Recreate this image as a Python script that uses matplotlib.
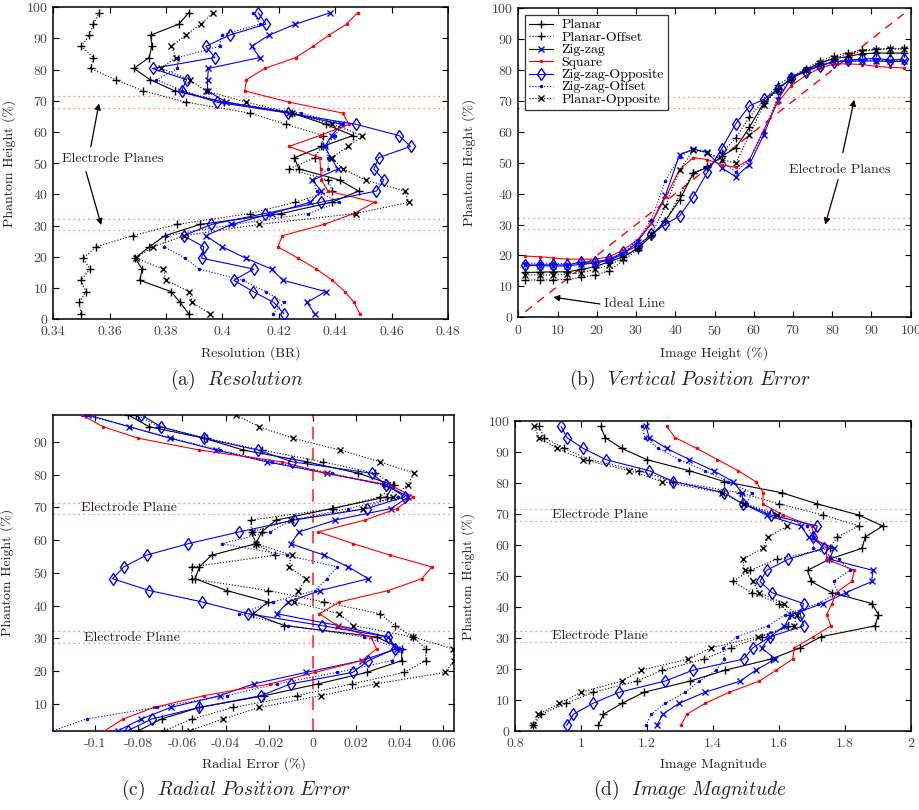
#!/usr/bin/env python

# Electrode layout comparison: resolution, position error and magnitude
# against phantom height for the seven electrode arrangements

import matplotlib

matplotlib.use("Agg")
import matplotlib.pyplot as plt

plt.rcParams["font.family"] = "serif"
plt.rcParams["font.serif"] = ["cmr10", "DejaVu Serif"]
plt.rcParams["mathtext.fontset"] = "cm"
plt.rcParams["axes.unicode_minus"] = False
plt.rcParams["axes.formatter.use_mathtext"] = True

# Phantom heights (%) at which each arrangement was measured
heights = [1.8, 5.4, 8.9, 12.5, 16.1, 19.6, 23.2, 26.8, 30.4, 33.9, 37.5, 41.1, 44.6, 48.2,
           51.8, 55.4, 58.9, 62.5, 66.1, 69.6, 73.2, 76.8, 80.4, 83.9, 87.5, 91.1, 94.6, 98.2]
electrode_planes = [28.57, 32.14, 67.86, 71.43]
names = ["Planar", "Planar-Offset", "Zig-zag", "Square",
         "Zig-zag-Opposite", "Zig-zag-Offset", "Planar-Opposite"]

# (a) Resolution (BR)
res_planar = [0.388, 0.385, 0.3817, 0.3707, 0.3715, 0.369, 0.374, 0.3796, 0.392, 0.4209, 0.4387, 0.4483, 0.4416, 0.4271,
              0.4255, 0.4355, 0.4463, 0.4366, 0.4246, 0.4005, 0.3831, 0.3743, 0.3686, 0.374, 0.3749, 0.3746, 0.3845, 0.388]
res_planar_off = [0.3498, 0.3492, 0.3516, 0.3498, 0.353, 0.3506, 0.3551, 0.3681, 0.3837, 0.4097, 0.4257, 0.4389, 0.4375, 0.4237,
                  0.4327, 0.4351, 0.4357, 0.4225, 0.4097, 0.387, 0.3719, 0.3621, 0.3532, 0.3542, 0.350, 0.3528, 0.3542, 0.3562]
res_zigzag = [0.4327, 0.430, 0.4366, 0.4215, 0.4174, 0.4082, 0.400, 0.3941, 0.4032, 0.4174, 0.431, 0.4351, 0.4319, 0.441,
              0.4384, 0.4363, 0.4387, 0.4422, 0.4237, 0.4014, 0.3947, 0.3947, 0.395, 0.4133, 0.4103, 0.4166, 0.4259, 0.4381]
res_square = [0.4487, 0.4467, 0.4434, 0.439, 0.4333, 0.4268, 0.4197, 0.4212, 0.436, 0.4466, 0.454, 0.4375, 0.4351, 0.4348,
              0.4345, 0.4236, 0.4345, 0.4449, 0.4426, 0.4236, 0.4079, 0.4085, 0.415, 0.426, 0.4322, 0.4378, 0.444, 0.4479]
res_zz_opp = [0.4218, 0.4182, 0.4109, 0.404, 0.4111, 0.3926, 0.3934, 0.3862, 0.3961, 0.415, 0.4348, 0.4546, 0.4572, 0.4537,
              0.4554, 0.4667, 0.4626, 0.4473, 0.4233, 0.3979, 0.3855, 0.3873, 0.3752, 0.3973, 0.3941, 0.4026, 0.4154, 0.4127]
res_zz_off = [0.4178, 0.4219, 0.4153, 0.4073, 0.3917, 0.3868, 0.3794, 0.380, 0.404, 0.4304, 0.4414, 0.4334, 0.4322, 0.4375,
              0.4375, 0.4366, 0.4398, 0.4428, 0.428, 0.4005, 0.3858, 0.3766, 0.384, 0.3843, 0.399, 0.3997, 0.4133, 0.4109]
res_planar_opp = [0.3955, 0.3893, 0.3882, 0.380, 0.379, 0.3693, 0.3752, 0.3863, 0.413, 0.4472, 0.4662, 0.4646, 0.4508, 0.4428,
                  0.4387, 0.4446, 0.4496, 0.439, 0.4245, 0.4085, 0.394, 0.3884, 0.3782, 0.3835, 0.3819, 0.387, 0.3923, 0.3965]

# (b) Phantom height (%) against image height (%)
vp_planar = [14.5, 14.6, 14.7, 14.7, 15.5, 16.4, 18.0, 19.6, 22.3, 26.3, 31.3, 38.0, 46.6, 48.5,
             52.1, 54.8, 61.5, 69.3, 74.0, 77.2, 80.0, 82.3, 83.7, 84.3, 85.3, 85.5, 85.5, 85.5]
vp_planar_off = [12.0, 12.1, 12.1, 12.3, 12.9, 13.7, 15.0, 18.5, 21.8, 26.6, 31.0, 39.5, 46.8, 48.8,
                 53.0, 58.0, 64.8, 70.0, 75.3, 77.8, 80.5, 82.8, 84.6, 85.5, 86.5, 86.8, 87.0, 87.0]
vp_zigzag = [16.9, 16.7, 16.6, 16.6, 17.2, 17.5, 18.5, 20.4, 24.5, 30.4, 39.5, 52.6, 54.4, 53.3,
             48.4, 45.5, 49.4, 59.0, 70.2, 77.6, 79.9, 81.4, 82.7, 82.8, 83.0, 82.9, 82.8, 82.8]
vp_square = [19.8, 19.6, 19.2, 18.8, 18.8, 18.8, 19.6, 21.8, 25.1, 30.4, 38.8, 47.8, 51.7, 51.0,
             49.4, 48.5, 51.0, 60.5, 69.5, 75.0, 78.2, 80.6, 82.0, 82.0, 81.8, 81.2, 80.9, 80.7]
vp_zz_opp = [16.9, 16.9, 17.0, 16.9, 17.9, 17.9, 18.8, 21.0, 23.1, 26.9, 30.1, 32.8, 39.0, 47.0,
             54.5, 62.6, 68.4, 70.5, 73.8, 77.5, 79.5, 81.3, 82.7, 83.2, 83.5, 83.8, 83.2, 83.5]
vp_zz_off = [17.5, 17.5, 17.5, 17.4, 17.5, 17.6, 18.6, 20.8, 25.0, 31.5, 44.2, 52.0, 54.5, 53.5,
             50.5, 47.0, 51.0, 60.0, 71.0, 77.8, 80.0, 81.6, 82.8, 83.0, 83.2, 83.2, 83.0, 83.0]
vp_planar_opp = [13.7, 13.7, 13.7, 13.9, 14.4, 15.5, 16.9, 19.2, 22.5, 26.8, 35.9, 47.7, 54.0, 53.4,
                 51.0, 49.9, 59.0, 68.7, 73.7, 77.2, 79.9, 82.3, 83.9, 85.0, 86.0, 86.6, 86.8, 86.8]
ideal_line = [1.8, 98.2]

# (c) Radial error (%)
rp_planar = [-0.080, -0.0694, -0.052, -0.0222, 0.0026, 0.0248, 0.0409, 0.0409, 0.0294, -0.013, -0.0273, -0.0204, -0.0395, -0.054,
             -0.052, -0.0464, -0.026, -0.0234, -0.0168, 0.0087, 0.034, 0.037, 0.021, -0.0028, -0.0319, -0.0499, -0.075, -0.0847]
rp_planar_off = [-0.0681, -0.0553, -0.0364, -0.0074, 0.0182, 0.042, 0.052, 0.052, 0.0462, 0.0378, 0.0309, 0.0052, -0.0204, -0.0556,
                 -0.0556, -0.0173, -0.026, -0.028, -0.0285, 0.0095, 0.0309, 0.0375, 0.0286, 0.0046, -0.0234, -0.0487, -0.0704, -0.0809]
rp_zigzag = [-0.0893, -0.0786, -0.0652, -0.0426, -0.027, -0.0031, 0.0225, 0.0386, 0.0348, 0.0118, -0.0165, -0.0112, 0.0034, 0.0256,
             0.0164, 0.0052, -0.0101, -0.0061, 0.0103, 0.0358, 0.044, 0.0337, 0.0064, -0.0211, -0.0444, -0.0655, -0.0842, -0.1031]
rp_square = [-0.0954, -0.087, -0.0729, -0.0499, -0.0196, 0.0011, 0.0225, 0.0294, 0.0266, 0.0113, 0.0031, 0.0123, 0.0348, 0.0501,
             0.0547, 0.0355, 0.0187, 0.0026, 0.024, 0.0386, 0.0462, 0.0355, 0.0057, -0.0142, -0.052, -0.0801, -0.0962, -0.1061]
rp_zz_opp = [-0.085, -0.0737, -0.0522, -0.0237, -0.0101, 0.0184, 0.0256, 0.0378, 0.0348, 0.0041, -0.0296, -0.0507, -0.075, -0.0919,
             -0.0867, -0.0763, -0.0571, -0.0337, -0.0086, 0.0248, 0.0424, 0.0337, 0.0271, -0.0093, -0.0253, -0.0499, -0.0697, -0.0786]
rp_zz_off = [-0.1191, -0.1038, -0.0717, -0.0395, -0.0165, 0.0113, 0.0363, 0.0409, 0.0234, -0.0111, -0.0337, -0.0184, 0.0011, 0.0064,
             0.0113, -0.0119, -0.0418, -0.0196, -0.0096, 0.0164, 0.0394, 0.0325, 0.0087, -0.0188, -0.0426, -0.0648, -0.0839, -0.1046]
rp_planar_opp = [-0.0564, -0.041, -0.0245, 0.0037, 0.0291, 0.0608, 0.0649, 0.0643, 0.0462, 0.0187, 0.0123, -0.0086, -0.0066, -0.0031,
                 -0.0109, -0.0096, -0.026, -0.028, -0.0101, 0.0233, 0.037, 0.0436, 0.0466, 0.0309, 0.0126, -0.0092, -0.0245, -0.0354]

# (d) Image magnitude
mag_planar = [1.053, 1.068, 1.124, 1.191, 1.331, 1.437, 1.576, 1.665, 1.728, 1.892, 1.902, 1.882, 1.761, 1.698,
              1.687, 1.753, 1.852, 1.862, 1.915, 1.843, 1.717, 1.609, 1.435, 1.329, 1.199, 1.124, 1.073, 1.060]
mag_planar_off = [0.856, 0.879, 0.954, 1.038, 1.169, 1.247, 1.374, 1.454, 1.548, 1.629, 1.634, 1.602, 1.518, 1.460,
                  1.513, 1.594, 1.755, 1.776, 1.843, 1.735, 1.602, 1.483, 1.280, 1.176, 1.025, 0.949, 0.888, 0.873]
mag_zigzag = [1.230, 1.248, 1.297, 1.376, 1.483, 1.530, 1.589, 1.548, 1.574, 1.617, 1.637, 1.733, 1.804, 1.882,
              1.885, 1.753, 1.768, 1.690, 1.667, 1.563, 1.493, 1.488, 1.462, 1.402, 1.329, 1.260, 1.207, 1.197]
mag_square = [1.303, 1.321, 1.376, 1.450, 1.541, 1.592, 1.642, 1.647, 1.705, 1.758, 1.745, 1.761, 1.774, 1.821,
              1.829, 1.745, 1.745, 1.707, 1.700, 1.614, 1.551, 1.553, 1.530, 1.477, 1.414, 1.351, 1.285, 1.260]
mag_zz_opp = [0.957, 0.977, 1.036, 1.116, 1.255, 1.339, 1.493, 1.521, 1.574, 1.675, 1.665, 1.675, 1.579, 1.543,
              1.563, 1.629, 1.737, 1.703, 1.717, 1.576, 1.491, 1.435, 1.280, 1.207, 1.075, 1.007, 0.957, 0.940]
mag_zz_off = [1.197, 1.213, 1.255, 1.316, 1.359, 1.410, 1.435, 1.432, 1.472, 1.568, 1.619, 1.720, 1.780, 1.766,
              1.816, 1.781, 1.705, 1.705, 1.685, 1.599, 1.503, 1.518, 1.447, 1.376, 1.298, 1.235, 1.194, 1.184]
mag_planar_opp = [0.856, 0.871, 0.934, 1.000, 1.124, 1.181, 1.326, 1.394, 1.536, 1.647, 1.654, 1.616, 1.541, 1.521,
                  1.496, 1.491, 1.551, 1.568, 1.626, 1.594, 1.491, 1.427, 1.247, 1.147, 1.007, 0.928, 0.873, 0.858]

# Line styles, in legend order
styles = [
    dict(color="k", linestyle="-", marker="+", markersize=6),
    dict(color="k", linestyle=":", marker="+", markersize=6),
    dict(color="b", linestyle="-", marker="x", markersize=4.5),
    dict(color="r", linestyle="-", marker=".", markersize=3),
    dict(color="b", linestyle="-", marker="d", markersize=6.5, markerfacecolor="none"),
    dict(color="b", linestyle=":", marker=".", markersize=3),
    dict(color="k", linestyle=":", marker="x", markersize=4.5),
]

FS = 10
TXT = "#222222"
plane_col = "#ff6a6a"

fig = plt.figure(figsize=(9.19, 8.10), dpi=100, facecolor="white")


def style_axes(ax):
    ax.tick_params(direction="in", top=True, right=True, length=4, width=0.8,
                   labelsize=FS, labelcolor="#444444")
    ax.tick_params(axis="x", pad=5)
    for s in ax.spines.values():
        s.set_linewidth(1.1)


def draw_planes(ax, xlim):
    for h in electrode_planes:
        ax.plot(xlim, [h, h], color=plane_col, linestyle=(0, (1, 3)), linewidth=0.9, zorder=1)


def arrow(ax, head, tail):
    ax.annotate("", xy=head, xytext=tail,
                arrowprops=dict(arrowstyle="-|>", color="k", lw=0.9, mutation_scale=9,
                                shrinkA=0, shrinkB=0))


# (a) Resolution
ax_a = fig.add_axes([0.058, 0.6058, 0.4295, 0.3852])
res = [res_planar, res_planar_off, res_zigzag, res_square, res_zz_opp, res_zz_off, res_planar_opp]
for vals, st in zip(res, styles):
    ax_a.plot(vals, heights, linewidth=0.8, zorder=3, **st)
draw_planes(ax_a, [0.34, 0.48])
ax_a.set_xlim(0.34, 0.48)
ax_a.set_ylim(0, 100)
ax_a.set_xticks([0.34, 0.36, 0.38, 0.4, 0.42, 0.44, 0.46, 0.48])
ax_a.set_xticklabels(["0.34", "0.36", "0.38", "0.4", "0.42", "0.44", "0.46", "0.48"])
ax_a.set_yticks(range(0, 101, 10))
ax_a.set_xlabel("Resolution (BR)", fontsize=FS, color=TXT)
ax_a.set_ylabel("Phantom Height (%)", fontsize=FS, color=TXT)
ax_a.xaxis.set_label_coords(0.5, -0.086)
ax_a.yaxis.set_label_coords(-0.095, 0.5)
ax_a.text(0.3612, 51.3, "Electrode Planes", fontsize=FS, color=TXT, ha="center", va="center")
arrow(ax_a, (0.3562, 69.2), (0.3533, 55.3))
arrow(ax_a, (0.357, 30.2), (0.3516, 47.3))
style_axes(ax_a)

# (b) Vertical position error
ax_b = fig.add_axes([0.564, 0.6083, 0.427, 0.3815])
vp = [vp_planar, vp_planar_off, vp_zigzag, vp_square, vp_zz_opp, vp_zz_off, vp_planar_opp]
handles = []
for vals, st, nm in zip(vp, styles, names):
    (ln,) = ax_b.plot(heights, vals, linewidth=0.8, zorder=3, label=nm, **st)
    handles.append(ln)
ax_b.plot(ideal_line, ideal_line, color="r", linestyle=(0, (6, 5)), linewidth=1.0, zorder=2)
draw_planes(ax_b, [0, 100])
ax_b.set_xlim(0, 100)
ax_b.set_ylim(0, 100)
ax_b.set_xticks(range(0, 101, 10))
ax_b.set_yticks(range(0, 101, 10))
ax_b.set_xlabel("Image Height (%)", fontsize=FS, color=TXT)
ax_b.set_ylabel("Phantom Height (%)", fontsize=FS, color=TXT)
ax_b.xaxis.set_label_coords(0.5, -0.093)
ax_b.yaxis.set_label_coords(-0.108, 0.5)
ax_b.text(81.8, 47.8, "Electrode Planes", fontsize=FS, color=TXT, ha="center", va="center")
arrow(ax_b, (85.6, 70.4), (82.7, 53.3))
arrow(ax_b, (78.2, 30.0), (81.5, 44.6))
ax_b.text(21.9, 4.3, "Ideal Line", fontsize=FS, color=TXT, ha="left", va="center")
arrow(ax_b, (8.9, 6.5), (20.8, 4.3))
leg = ax_b.legend(handles=handles, loc="upper left", fontsize=FS, frameon=True, fancybox=False,
                  handlelength=1.7, handletextpad=0.6, handleheight=0.5, borderaxespad=0.5,
                  labelspacing=0.02, borderpad=0.3)
leg.get_frame().set_edgecolor("k")
leg.get_frame().set_linewidth(0.9)
style_axes(ax_b)

# (c) Radial position error
ax_c = fig.add_axes([0.058, 0.0979, 0.436, 0.3898])
rp = [rp_planar, rp_planar_off, rp_zigzag, rp_square, rp_zz_opp, rp_zz_off, rp_planar_opp]
for vals, st in zip(rp, styles):
    ax_c.plot(vals, heights, linewidth=0.8, zorder=3, **st)
x_lo = min(min(v) for v in rp)
x_hi = max(max(v) for v in rp)
draw_planes(ax_c, [x_lo, x_hi])
ax_c.axvline(0, color="#ff5050", linestyle=(0, (6, 4)), linewidth=1.5, zorder=2)
ax_c.set_xlim(x_lo, x_hi)
ax_c.set_ylim(heights[0], heights[-1])
ax_c.set_xticks([-0.1, -0.08, -0.06, -0.04, -0.02, 0, 0.02, 0.04, 0.06])
ax_c.set_xticklabels(["-0.1", "-0.08", "-0.06", "-0.04", "-0.02", "0", "0.02", "0.04", "0.06"])
ax_c.set_yticks(range(10, 91, 10))
ax_c.set_xlabel("Radial Error (%)", fontsize=FS, color=TXT)
ax_c.set_ylabel("Phantom Height (%)", fontsize=FS, color=TXT)
ax_c.xaxis.set_label_coords(0.5, -0.083)
ax_c.yaxis.set_label_coords(-0.098, 0.5)
ax_c.text(-0.1063, 69.9, "Electrode Plane", fontsize=FS, color=TXT, ha="left", va="center")
ax_c.text(-0.1052, 30.2, "Electrode Plane", fontsize=FS, color=TXT, ha="left", va="center")
style_axes(ax_c)

# (d) Image magnitude
ax_d = fig.add_axes([0.5604, 0.0975, 0.4306, 0.383])
mag = [mag_planar, mag_planar_off, mag_zigzag, mag_square, mag_zz_opp, mag_zz_off, mag_planar_opp]
for vals, st in zip(mag, styles):
    ax_d.plot(vals, heights, linewidth=0.8, zorder=3, **st)
draw_planes(ax_d, [0.8, 2])
ax_d.set_xlim(0.8, 2)
ax_d.set_ylim(0, 100)
ax_d.set_xticks([0.8, 1, 1.2, 1.4, 1.6, 1.8, 2])
ax_d.set_xticklabels(["0.8", "1", "1.2", "1.4", "1.6", "1.8", "2"])
ax_d.set_yticks(range(0, 101, 10))
ax_d.set_xlabel("Image Magnitude", fontsize=FS, color=TXT)
ax_d.set_ylabel("Phantom Height (%)", fontsize=FS, color=TXT)
ax_d.xaxis.set_label_coords(0.5, -0.087)
ax_d.yaxis.set_label_coords(-0.101, 0.5)
ax_d.text(0.911, 69.8, "Electrode Plane", fontsize=FS, color=TXT, ha="left", va="center")
ax_d.text(0.911, 30.5, "Electrode Plane", fontsize=FS, color=TXT, ha="left", va="center")
style_axes(ax_d)

# Sub-figure captions
CAP = 14
fig.text(0.257, 0.531, r"(a)  $\mathit{Resolution}$", fontsize=CAP, ha="center", va="center", color=TXT)
fig.text(0.751, 0.531, r"(b)  $\mathit{Vertical\ Position\ Error}$", fontsize=CAP, ha="center", va="center", color=TXT)
fig.text(0.257, 0.025, r"(c)  $\mathit{Radial\ Position\ Error}$", fontsize=CAP, ha="center", va="center", color=TXT)
fig.text(0.751, 0.025, r"(d)  $\mathit{Image\ Magnitude}$", fontsize=CAP, ha="center", va="center", color=TXT)

fig.savefig("out.png", dpi=100, facecolor="white")
